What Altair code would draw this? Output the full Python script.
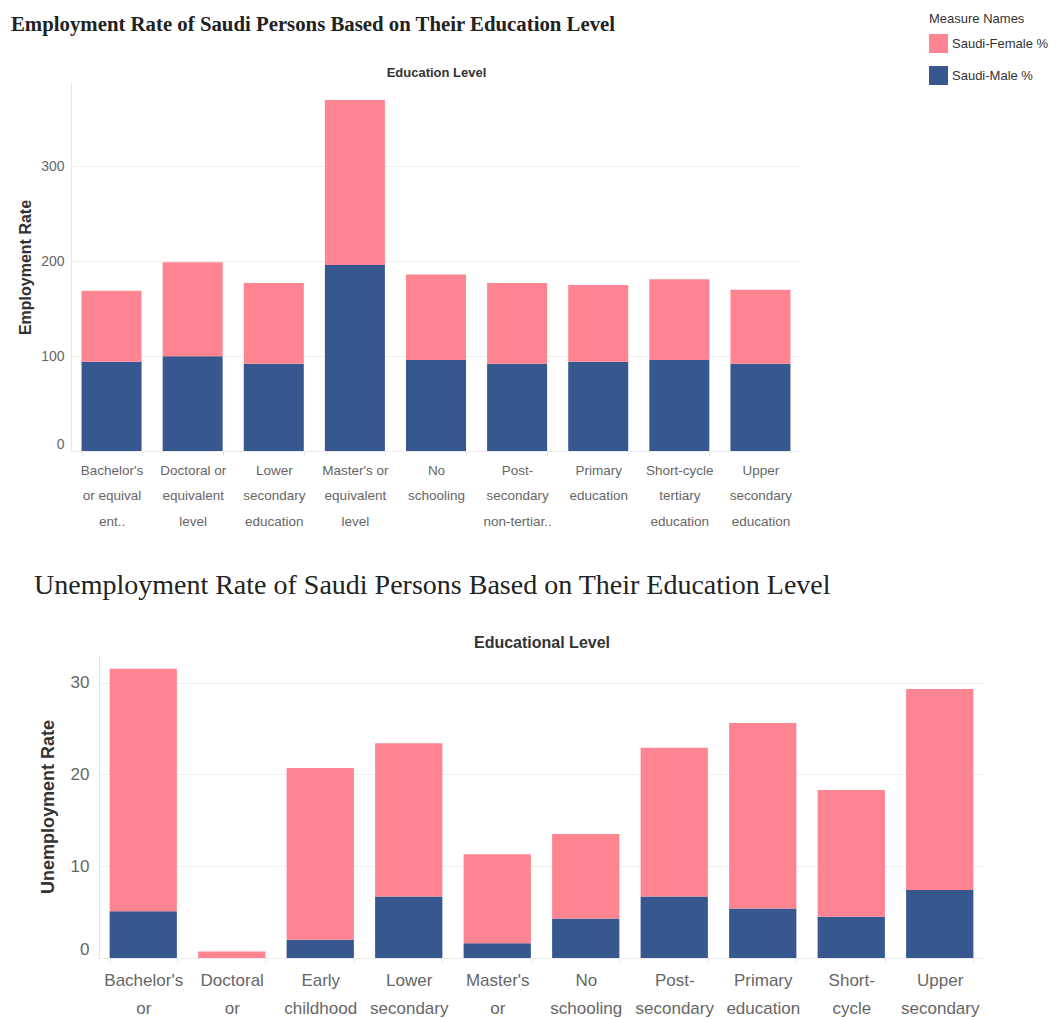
import altair as alt
import pandas as pd

SANS = "Liberation Sans"
SERIF = "Liberation Serif"

# Employment: education levels (wrapped as displayed) and stacked shares
emp_levels = [
    "Bachelor's\nor equival\nent..",
    "Doctoral or\nequivalent\nlevel",
    "Lower\nsecondary\neducation",
    "Master's or\nequivalent\nlevel",
    "No\nschooling",
    "Post-\nsecondary\nnon-tertiar..",
    "Primary\neducation",
    "Short-cycle\ntertiary\neducation",
    "Upper\nsecondary\neducation",
]
emp_male = [94, 100, 92, 196, 96, 92, 94, 96, 92]
emp_female = [75, 99, 85, 174, 90, 85, 81, 85, 78]

# Unemployment: education levels and stacked shares
unemp_levels = [
    "Bachelor's\nor",
    "Doctoral\nor",
    "Early\nchildhood",
    "Lower\nsecondary",
    "Master's\nor",
    "No\nschooling",
    "Post-\nsecondary",
    "Primary\neducation",
    "Short-\ncycle",
    "Upper\nsecondary",
]
unemp_male = [5.1, 0.0, 2.0, 6.7, 1.6, 4.3, 6.7, 5.4, 4.5, 7.4]
unemp_female = [26.4, 0.7, 18.7, 16.7, 9.7, 9.2, 16.2, 20.2, 13.8, 21.9]

measures = ["Saudi-Female %", "Saudi-Male %"]
measure_colors = ["#ff8491", "#37578f"]

# multi-line category labels; the extra band-edge tick gets no label
LABEL_EXPR = "isValid(datum.value) ? split(datum.value, '\\n') : ''"


def long_table(levels, male, female):
    rows = []
    for lv, m, f in zip(levels, male, female):
        rows.append({"level": lv, "measure": "Saudi-Male %", "value": m, "stack": 0})
        rows.append({"level": lv, "measure": "Saudi-Female %", "value": f, "stack": 1})
    return pd.DataFrame(rows)


color = alt.Color(
    "measure:N",
    scale=alt.Scale(domain=measures, range=measure_colors),
    legend=alt.Legend(
        title="Measure Names",
        orient="none",
        legendX=921,
        legendY=-70,
        symbolType="square",
        symbolSize=361,
        symbolStrokeWidth=0,
        symbolOpacity=1,
        titleFont=SANS,
        titleFontSize=13,
        titleFontWeight="normal",
        titleColor="#333333",
        titleBaseline="top",
        titlePadding=8,
        labelFont=SANS,
        labelFontSize=13,
        labelColor="#333333",
        labelOffset=4,
        rowPadding=13,
        padding=0,
    ),
)


def spacer(w):
    return (
        alt.Chart(pd.DataFrame({"v": [0]}))
        .mark_rule(strokeOpacity=0)
        .encode(x=alt.value(0), x2=alt.value(w), y=alt.value(0))
        .properties(width=w, height=1)
    )


emp_w, emp_h = 730, 368
employment = (
    alt.Chart(
        long_table(emp_levels, emp_male, emp_female),
        title=alt.TitleParams(
            "Employment Rate of Saudi Persons Based on Their Education Level",
            anchor="start",
            frame="group",
            dx=-60,
            offset=30,
            font=SERIF,
            fontSize=20.8,
            fontWeight="bold",
            color="#222222",
        ),
    )
    .mark_bar()
    .encode(
        x=alt.X(
            "level:N",
            sort=emp_levels,
            scale=alt.Scale(paddingInner=0.26, paddingOuter=0.13),
            axis=alt.Axis(
                title="Education Level",
                titleY=-375,
                titleBaseline="alphabetic",
                titleFont=SANS,
                titleFontSize=13,
                titleFontWeight="bold",
                titleColor="#333333",
                labelAngle=0,
                labelExpr=LABEL_EXPR,
                labelFont=SANS,
                labelFontSize=13.5,
                labelColor="#666666",
                labelLineHeight=25.5,
                labelPadding=8,
                labelLimit=200,
                tickBand="extent",
                tickSize=4,
                tickColor="#e2e2e2",
                domainColor="#ececec",
            ),
        ),
        y=alt.Y(
            "value:Q",
            stack="zero",
            scale=alt.Scale(domain=[0, 388], nice=False),
            axis=alt.Axis(
                values=[0, 100, 200, 300],
                title="Employment Rate",
                titleX=-46,
                titleY=emp_h / 2,
                titleBaseline="middle",
                titleFont=SANS,
                titleFontSize=16,
                titleFontWeight="bold",
                titleColor="#333333",
                labelFont=SANS,
                labelFontSize=14,
                labelColor="#666666",
                labelPadding=7,
                labelFlush=True,
                ticks=False,
                grid=True,
                gridColor="#efefef",
                domainColor="#e6e6e6",
            ),
        ),
        color=color,
        order=alt.Order("stack:Q"),
    )
    .properties(width=emp_w, height=emp_h)
)

un_w, un_h = 885, 303
unemployment = (
    alt.Chart(
        long_table(unemp_levels, unemp_male, unemp_female),
        title=alt.TitleParams(
            "Unemployment Rate of Saudi Persons Based on Their Education Level",
            anchor="start",
            frame="group",
            dx=-65,
            offset=34,
            font=SERIF,
            fontSize=28,
            fontWeight="normal",
            color="#222222",
        ),
    )
    .mark_bar()
    .encode(
        x=alt.X(
            "level:N",
            sort=unemp_levels,
            scale=alt.Scale(paddingInner=0.24, paddingOuter=0.12),
            axis=alt.Axis(
                title="Educational Level",
                titleY=-311,
                titleBaseline="alphabetic",
                titleFont=SANS,
                titleFontSize=16,
                titleFontWeight="bold",
                titleColor="#333333",
                labelAngle=0,
                labelExpr=LABEL_EXPR,
                labelFont=SANS,
                labelFontSize=17,
                labelColor="#666666",
                labelLineHeight=28,
                labelPadding=10,
                labelLimit=200,
                tickBand="extent",
                tickSize=4,
                tickColor="#e2e2e2",
                domainColor="#ececec",
            ),
        ),
        y=alt.Y(
            "value:Q",
            stack="zero",
            scale=alt.Scale(domain=[0, 33], nice=False),
            axis=alt.Axis(
                values=[0, 10, 20, 30],
                title="Unemployment Rate",
                titleX=-50.5,
                titleY=un_h / 2,
                titleBaseline="middle",
                titleFont=SANS,
                titleFontSize=18,
                titleFontWeight="bold",
                titleColor="#333333",
                labelFont=SANS,
                labelFontSize=17,
                labelColor="#666666",
                labelPadding=10,
                labelFlush=True,
                ticks=False,
                grid=True,
                gridColor="#efefef",
                domainColor="#e6e6e6",
            ),
        ),
        color=color,
        order=alt.Order("stack:Q"),
    )
    .properties(width=un_w, height=un_h)
)

chart = (
    alt.vconcat(
        alt.hconcat(spacer(1), employment, spacing=0),
        alt.hconcat(spacer(24), unemployment, spacing=0),
        spacing=43,
    )
    .properties(padding={"left": 7, "top": 13, "right": 4, "bottom": 0})
    .configure_view(stroke="transparent")
)

chart.save("out.html", embed_options={"renderer": "svg", "actions": False})
